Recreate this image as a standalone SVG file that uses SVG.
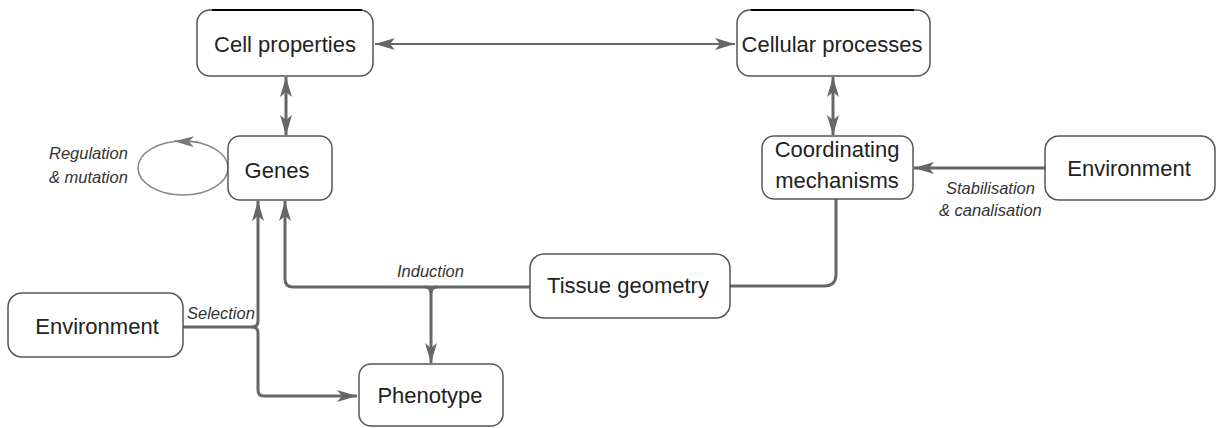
<svg xmlns="http://www.w3.org/2000/svg" width="1217" height="428" viewBox="0 0 1217 428">
<defs>
<marker id="ah" markerUnits="userSpaceOnUse" markerWidth="20" markerHeight="12" viewBox="0 0 20 12" refX="20" refY="6" orient="auto-start-reverse">
<path d="M20,6 L0,0 L5,6 L0,12 Z" fill="#666"/>
</marker>
<marker id="ahl" markerUnits="userSpaceOnUse" markerWidth="20" markerHeight="11" viewBox="0 0 20 11" refX="20" refY="5.5" orient="auto">
<path d="M20,5.5 L0,0 L5,5.5 L0,11 Z" fill="#777"/>
</marker>
</defs>
<style>
.box{fill:#fff;stroke:#555;stroke-width:1.5}
.lbl{font-family:"Liberation Sans",Arial,sans-serif;font-size:22px;fill:#222;text-anchor:middle}
.it{font-family:"Liberation Sans",Arial,sans-serif;font-size:16.5px;font-style:italic;fill:#333}
.con{fill:none;stroke:#666;stroke-width:3}
.thin{fill:none;stroke:#666;stroke-width:2}
.topline{stroke:#000;stroke-width:2}
</style>
<rect width="1217" height="428" fill="#fff"/>
<g id="connectors">
<path class="thin" d="M375,44 L735,44" marker-start="url(#ah)" marker-end="url(#ah)"/>
<path class="con" d="M286,77 L286,135" marker-start="url(#ah)" marker-end="url(#ah)"/>
<path class="con" d="M833,77 L833,135" marker-start="url(#ah)" marker-end="url(#ah)"/>
<path class="con" d="M1045,168 L914,168" marker-end="url(#ah)"/>
<path class="con" d="M730,286 L824,286 Q836,286 836,274 L836,199"/>
<path class="con" d="M530,287 L293,287 Q285,287 285,279 L285,201" marker-end="url(#ah)"/>
<path class="con" d="M425,287 Q431,287 431,293 L431,363" marker-end="url(#ah)"/>
<path class="con" d="M437,287 Q431,287 431,293"/>
<path class="con" d="M183,327 L252,327 Q258,327 258,321 L258,201" marker-end="url(#ah)"/>
<path class="con" d="M252,327 Q258,327 258,333 L258,390 Q258,396 264,396 L357,396" marker-end="url(#ah)"/>
<ellipse cx="183" cy="168" rx="45" ry="27" fill="none" stroke="#888" stroke-width="1.6"/>
<path d="M198,141.8 L174,141.2" fill="none" stroke="#888" stroke-width="1.6" marker-end="url(#ahl)"/>
</g>
<g id="cell-properties">
<rect class="box" x="197" y="10" width="176" height="66" rx="13"/>
<line class="topline" x1="212" y1="10" x2="362" y2="10"/>
<text class="lbl" x="285" y="52">Cell properties</text>
</g>
<g id="cellular-processes">
<rect class="box" x="737" y="10" width="193" height="66" rx="13"/>
<line class="topline" x1="751" y1="10" x2="914" y2="10"/>
<text class="lbl" x="832" y="52">Cellular processes</text>
</g>
<g id="genes">
<rect class="box" x="228" y="136" width="104" height="64" rx="12"/>
<text class="lbl" x="277" y="178">Genes</text>
</g>
<g id="regulation-label">
<text class="it" x="49" y="159">Regulation</text>
<text class="it" x="49" y="183">&amp; mutation</text>
</g>
<g id="coordinating-mechanisms">
<rect class="box" x="762" y="136" width="151" height="63" rx="12"/>
<text class="lbl" x="837" y="157">Coordinating</text>
<text class="lbl" x="837" y="188">mechanisms</text>
</g>
<g id="environment-right">
<rect class="box" x="1045" y="136" width="170" height="64" rx="14"/>
<text class="lbl" x="1129" y="176">Environment</text>
</g>
<g id="stabilisation-label">
<text class="it" x="946" y="194">Stabilisation</text>
<text class="it" x="939" y="216">&amp; canalisation</text>
</g>
<g id="tissue-geometry">
<rect class="box" x="530" y="254" width="200" height="64" rx="14"/>
<text class="lbl" x="628" y="293">Tissue geometry</text>
</g>
<g id="induction-label">
<text class="it" x="397" y="277">Induction</text>
</g>
<g id="environment-left">
<rect class="box" x="8" y="293" width="175" height="64" rx="14"/>
<text class="lbl" x="97" y="334">Environment</text>
</g>
<g id="selection-label">
<text class="it" x="187" y="319">Selection</text>
</g>
<g id="phenotype">
<rect class="box" x="359" y="364" width="144" height="62" rx="12"/>
<text class="lbl" x="430" y="403">Phenotype</text>
</g>
</svg>
